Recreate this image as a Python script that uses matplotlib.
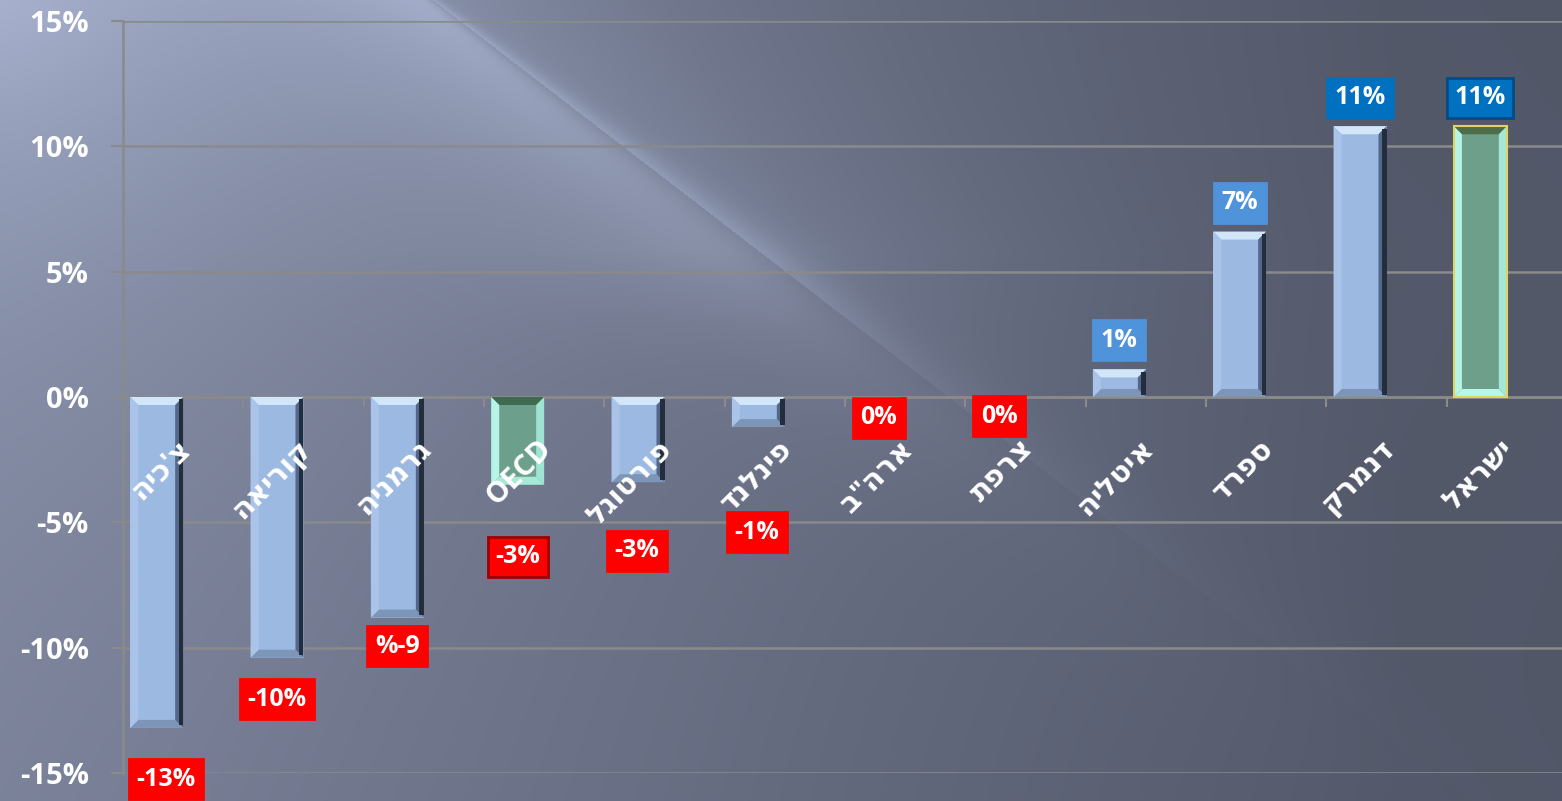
import numpy as np
import matplotlib
matplotlib.use('Agg')
import matplotlib.pyplot as plt
from matplotlib.patches import Polygon, Rectangle

# data (percent change)
countries = ["צ'כיה", "קוריאה", "גרמניה", "OECD", "פורטוגל", "פינלנד",
             'ארה"ב', "צרפת", "איטליה", "ספרד", "דנמרק", "ישראל"]
changes = [-13.2, -10.4, -8.8, -3.5, -3.4, -1.2, -0.1, -0.1, 1.1, 6.6, 10.8, 10.8]
value_labels = ["-13%", "-10%", "%-9", "-3%", "-3%", "-1%", "0%", "0%",
                "1%", "7%", "11%", "11%"]
highlight = ["OECD", "ישראל"]
yticks = [-15, -10, -5, 0, 5, 10, 15]

# label placement (points away from bar end) and box colours
label_gap = [37, 30, 20.5, 52, 49.5, 75.6, 13.3, 12, 21, 20.6, 20.5, 20.5]
label_dx = [6.5, 0, 0, 0, -1, -1, 0, 0, 0, 0, 0, 0]
box_fc = ["#FF0000"] * 8 + ["#4F93DB", "#4F93DB", "#0070C0", "#0070C0"]
box_ec = ["#FF0000"] * 3 + ["#9E0000"] + ["#FF0000"] * 4 + ["#4F93DB", "#4F93DB", "#0070C0", "#004C86"]

W, H = 1562, 801
FONT = ['Open Sans', 'DejaVu Sans']


def visual(s):
    # matplotlib has no bidi support, flip hebrew to visual order
    if any('\u0590' <= c <= '\u05FF' for c in s):
        return s[::-1]
    return s


fig = plt.figure(figsize=(W / 100, H / 100), dpi=100)

# background: left-to-right darkening, diagonal light streak, bright top-left
Y, X = np.mgrid[0:H, 0:W].astype(float)
f = 0.77 * (X - 433) - Y
t = np.clip(X / 1400, 0, 1)[..., None]
base = np.array([118, 125, 148]) * (1 - t) + np.array([82, 87, 104]) * t
soft = 3 + Y * 0.05
side = 1 / (1 + np.exp(np.clip(f / soft, -50, 50)))
fade1 = np.exp(-Y / 400)
fade2 = np.exp(-np.clip(Y - 250, 0, None) / 150)
streak = side * np.exp(-np.abs(np.clip(f, -3000, 0)) / 150) * fade2
glow = np.where(f >= 0, np.exp(-np.clip(f, 0, 3000) / 200), 0) * fade2
corner = np.exp(-np.hypot(X, Y) / 350)
img = (base
       + (side * fade1)[..., None] * np.array([10, 11, 13])
       + streak[..., None] * np.array([38, 40, 44])
       + glow[..., None] * np.array([18, 20, 23])
       + corner[..., None] * np.array([35, 37, 40]))
img = np.clip(img / 255, 0, 1)
bg = fig.add_axes([0, 0, 1, 1], zorder=-1)
bg.imshow(img, aspect='auto', extent=(0, 1, 0, 1), origin='upper')
bg.axis('off')

ax = fig.add_axes([123 / W, 28 / H, 1444 / W, 752 / H], zorder=1)
ax.patch.set_alpha(0)
ax.set_xlim(-0.5, len(countries) - 0.5)
ax.set_ylim(-15, 15)

bx = 8 / 120.33
by0 = 8 / 25.07


def bevel_bar(xc, w, v, body, top, bottom, left, right, rdark, edge=None):
    x0, x1 = xc - w / 2, xc + w / 2
    yt, yb = max(0, v), min(0, v)
    by = min(by0, (yt - yb) / 2)
    ax.add_patch(Rectangle((x0, yb), w, yt - yb, fc=body, ec='none', zorder=3))
    polys = [
        ([(x0, yt), (x1, yt), (x1 - bx, yt - by), (x0 + bx, yt - by)], top),
        ([(x0, yb), (x1, yb), (x1 - bx, yb + by), (x0 + bx, yb + by)], bottom),
        ([(x0, yb), (x0, yt), (x0 + bx, yt - by), (x0 + bx, yb + by)], left),
        ([(x1, yb), (x1, yt), (x1 - bx, yt - by), (x1 - bx, yb + by)], right),
    ]
    for pts, c in polys:
        ax.add_patch(Polygon(pts, closed=True, fc=c, ec='none', zorder=3))
    if rdark:
        ax.add_patch(Rectangle((x1 - bx * 0.55, yb + by * 0.3), bx * 0.55,
                               (yt - yb) - by * 0.6, fc=rdark, ec='none', zorder=3))
    if edge:
        ax.add_patch(Rectangle((x0, yb), w, yt - yb, fc='none', ec=edge, lw=1.5, zorder=4))


for i, (name, v) in enumerate(zip(countries, changes)):
    xc = i - 0.22
    if name == "OECD":
        bevel_bar(xc, 0.44, v, '#6C9F8C', '#3E6A50', '#A7E9D7', '#B6F5E6', '#9FE3D2', None)
    elif name == "ישראל":
        bevel_bar(xc, 0.44, v, '#6E9F8B', '#4F6C49', '#B9F6E7', '#B6F5E6', '#A5E6D5', None,
                  edge='#E2D25E')
    else:
        bevel_bar(xc, 0.44, v, '#9CB9E1', '#D2E6FA', '#7D95B6', '#A9C4E8', '#52678A', '#232D3C')

    up = v > 0
    ax.annotate(value_labels[i], xy=(xc, v),
                xytext=(label_dx[i], label_gap[i] if up else -label_gap[i]),
                textcoords='offset points', ha='center', va='center',
                fontsize=18, weight='bold', color='white', family=FONT,
                bbox=dict(boxstyle='square,pad=0.3', fc=box_fc[i], ec=box_ec[i], lw=2),
                zorder=6)

    ax.text(i + 0.03, -1.9, visual(name), rotation=45, rotation_mode='anchor',
            ha='right', va='center', fontsize=21, weight='bold', color='white',
            family=FONT, zorder=5)

ax.set_yticks(yticks)
ax.set_yticklabels([f"{t}%" for t in yticks], family=FONT, weight='bold')
ax.set_xticks(np.arange(-0.5, len(countries), 1))
ax.set_xticklabels([])
ax.tick_params(axis='y', colors='#8A8A8A', length=8.6, width=1.5, pad=16,
               labelsize=21, labelcolor='white')
ax.tick_params(axis='x', colors='#8A8A8A', length=7, width=1.5, direction='out')
ax.yaxis.grid(True, color='#8A8A8A', lw=1.8, zorder=0)
ax.set_axisbelow(True)
for sp in ['top', 'right']:
    ax.spines[sp].set_visible(False)
ax.spines['bottom'].set_position(('data', 0))
ax.spines['bottom'].set_color('#8A8A8A')
ax.spines['bottom'].set_linewidth(1.8)
ax.spines['left'].set_color('#8A8A8A')
ax.spines['left'].set_linewidth(1.8)

fig.savefig('out.png', dpi=100)
